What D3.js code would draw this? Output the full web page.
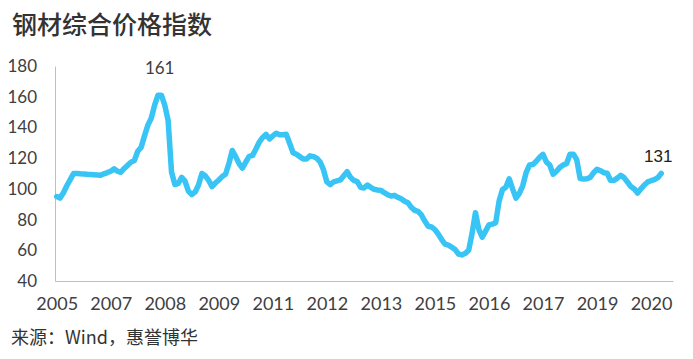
<!DOCTYPE html>
<html>
<head>
<meta charset="utf-8">
<script src="https://cdn.jsdelivr.net/npm/d3@7"></script>
<style>
  html, body { margin: 0; padding: 0; background: #fff; }
  svg { display: block; }
</style>
</head>
<body>
<svg id="chart" width="693" height="359"></svg>
<script>
// ---- data ----
const title = "钢材综合价格指数";
const source = "来源：Wind，惠誉博华";
const xLabels = ["2005","2007","2008","2009","2011","2012","2013","2015","2016","2017","2019","2020"];
const labelEvery = 16;        // categories between x labels
const categoryCount = 183;    // categories on the axis
const yTicks = [40, 60, 80, 100, 120, 140, 160, 180];
const values = [
  95, 94, 97.5, 102, 106, 110, 110, 109.8, 109.7, 109.5,
  109.4, 109.2, 109, 108.8, 109.8, 110.6, 111.5, 113, 111.5, 110.8,
  113.3, 115.3, 117.4, 118.5, 124.5, 127, 134.5, 141.5, 146, 154.5,
  161, 161, 154.5, 144.5, 111, 102.8, 103.5, 107.5, 105, 98.5,
  96.2, 98, 102.5, 110, 108.5, 105.5, 101.5, 103.8, 105.8, 108,
  109.5, 116.5, 125, 121, 116.5, 113.5, 117.5, 121.2, 121.8, 126,
  130.5, 133.5, 135.5, 132.5, 134.5, 136.2, 135.2, 135.2, 135.5, 129.5,
  123.5, 122.5, 121, 119.5, 119.5, 121.5, 121, 120, 117.5, 112.5,
  104.5, 102.8, 104.6, 105.2, 105.8, 108.5, 111.2, 107.5, 105.5, 104.7,
  101, 100.5, 102.5, 101, 99.7, 99.3, 99, 97.5, 96.2, 95.3,
  95.8, 94.5, 93.5, 92, 91, 88, 86, 85.3, 83, 79,
  75.6, 75.2, 73.5, 70.5, 67, 64, 63.4, 62, 60.5, 57.5,
  57, 58, 60, 71, 84.5, 73.5, 68.5, 72.5, 76.5, 77,
  78, 92, 99.5, 101, 106.5, 100, 94, 97, 102, 110.5,
  115.5, 115.8, 118, 120.5, 122.5, 117.5, 115.5, 109.5, 111.5, 114,
  115.5, 116.5, 122.5, 122.6, 119, 106.7, 106.4, 106.6, 107.5, 110.5,
  112.8, 111.8, 110.5, 110.2, 105.6, 105.5, 107, 108.8, 107.3, 104.5,
  101.5, 100, 97.3, 100, 102.5, 104.5, 105.3, 106, 107.3, 110
];
const annotations = [
  { index: 30.5, value: 161, text: "161" },
  { index: 179, value: 110, text: "131" }
];

// ---- chart ----
const svg = d3.select("#chart");
const plotLeft = 55, plotRight = 673, plotTop = 66, plotBottom = 281;

const x = d3.scaleLinear().domain([-0.5, categoryCount - 0.5]).range([plotLeft, plotRight]);
const y = d3.scaleLinear().domain([40, 180]).range([plotBottom, plotTop]);

svg.append("text")
  .attr("x", 12).attr("y", 34)
  .attr("font-family", "'Noto Sans CJK SC', sans-serif")
  .attr("font-size", 25)
  .attr("font-weight", 500)
  .attr("fill", "#333")
  .text(title);

const yAxis = svg.append("g")
  .attr("transform", `translate(${plotLeft},0)`)
  .call(d3.axisLeft(y).tickValues(yTicks).tickSize(0).tickPadding(18).tickFormat(d3.format("d")));
yAxis.select(".domain").attr("stroke", "#bfbfbf");
yAxis.selectAll("text")
  .attr("font-family", "Lato, sans-serif").attr("font-size", 17).attr("fill", "#404040");

const xAxis = svg.append("g")
  .attr("transform", `translate(0,${plotBottom})`)
  .call(d3.axisBottom(x)
    .tickValues(xLabels.map((d, i) => i * labelEvery))
    .tickFormat((d, i) => xLabels[i])
    .tickSize(0).tickPadding(16));
xAxis.select(".domain").attr("stroke", "#bfbfbf");
xAxis.selectAll("text")
  .attr("font-family", "Lato, sans-serif").attr("font-size", 18).attr("fill", "#404040");

const line = d3.line().x((d, i) => x(i)).y(d => y(d));
svg.append("path")
  .datum(values)
  .attr("d", line)
  .attr("fill", "none")
  .attr("stroke", "#38c4f5")
  .attr("stroke-width", 5.5)
  .attr("stroke-linejoin", "round")
  .attr("stroke-linecap", "round");

svg.append("text")
  .attr("x", x(annotations[0].index)).attr("y", y(annotations[0].value) - 21)
  .attr("text-anchor", "middle")
  .attr("font-family", "Lato, sans-serif").attr("font-size", 17).attr("fill", "#404040")
  .text(annotations[0].text);

svg.append("text")
  .attr("x", x(annotations[1].index) - 3).attr("y", y(annotations[1].value) - 12)
  .attr("text-anchor", "middle")
  .attr("font-family", "'Liberation Sans', sans-serif").attr("font-size", 17).attr("fill", "#222")
  .text(annotations[1].text);

svg.append("text")
  .attr("x", 11).attr("y", 344)
  .attr("font-family", "'Noto Sans CJK SC', sans-serif")
  .attr("font-size", 18)
  .attr("fill", "#333")
  .text(source);
</script>
</body>
</html>
